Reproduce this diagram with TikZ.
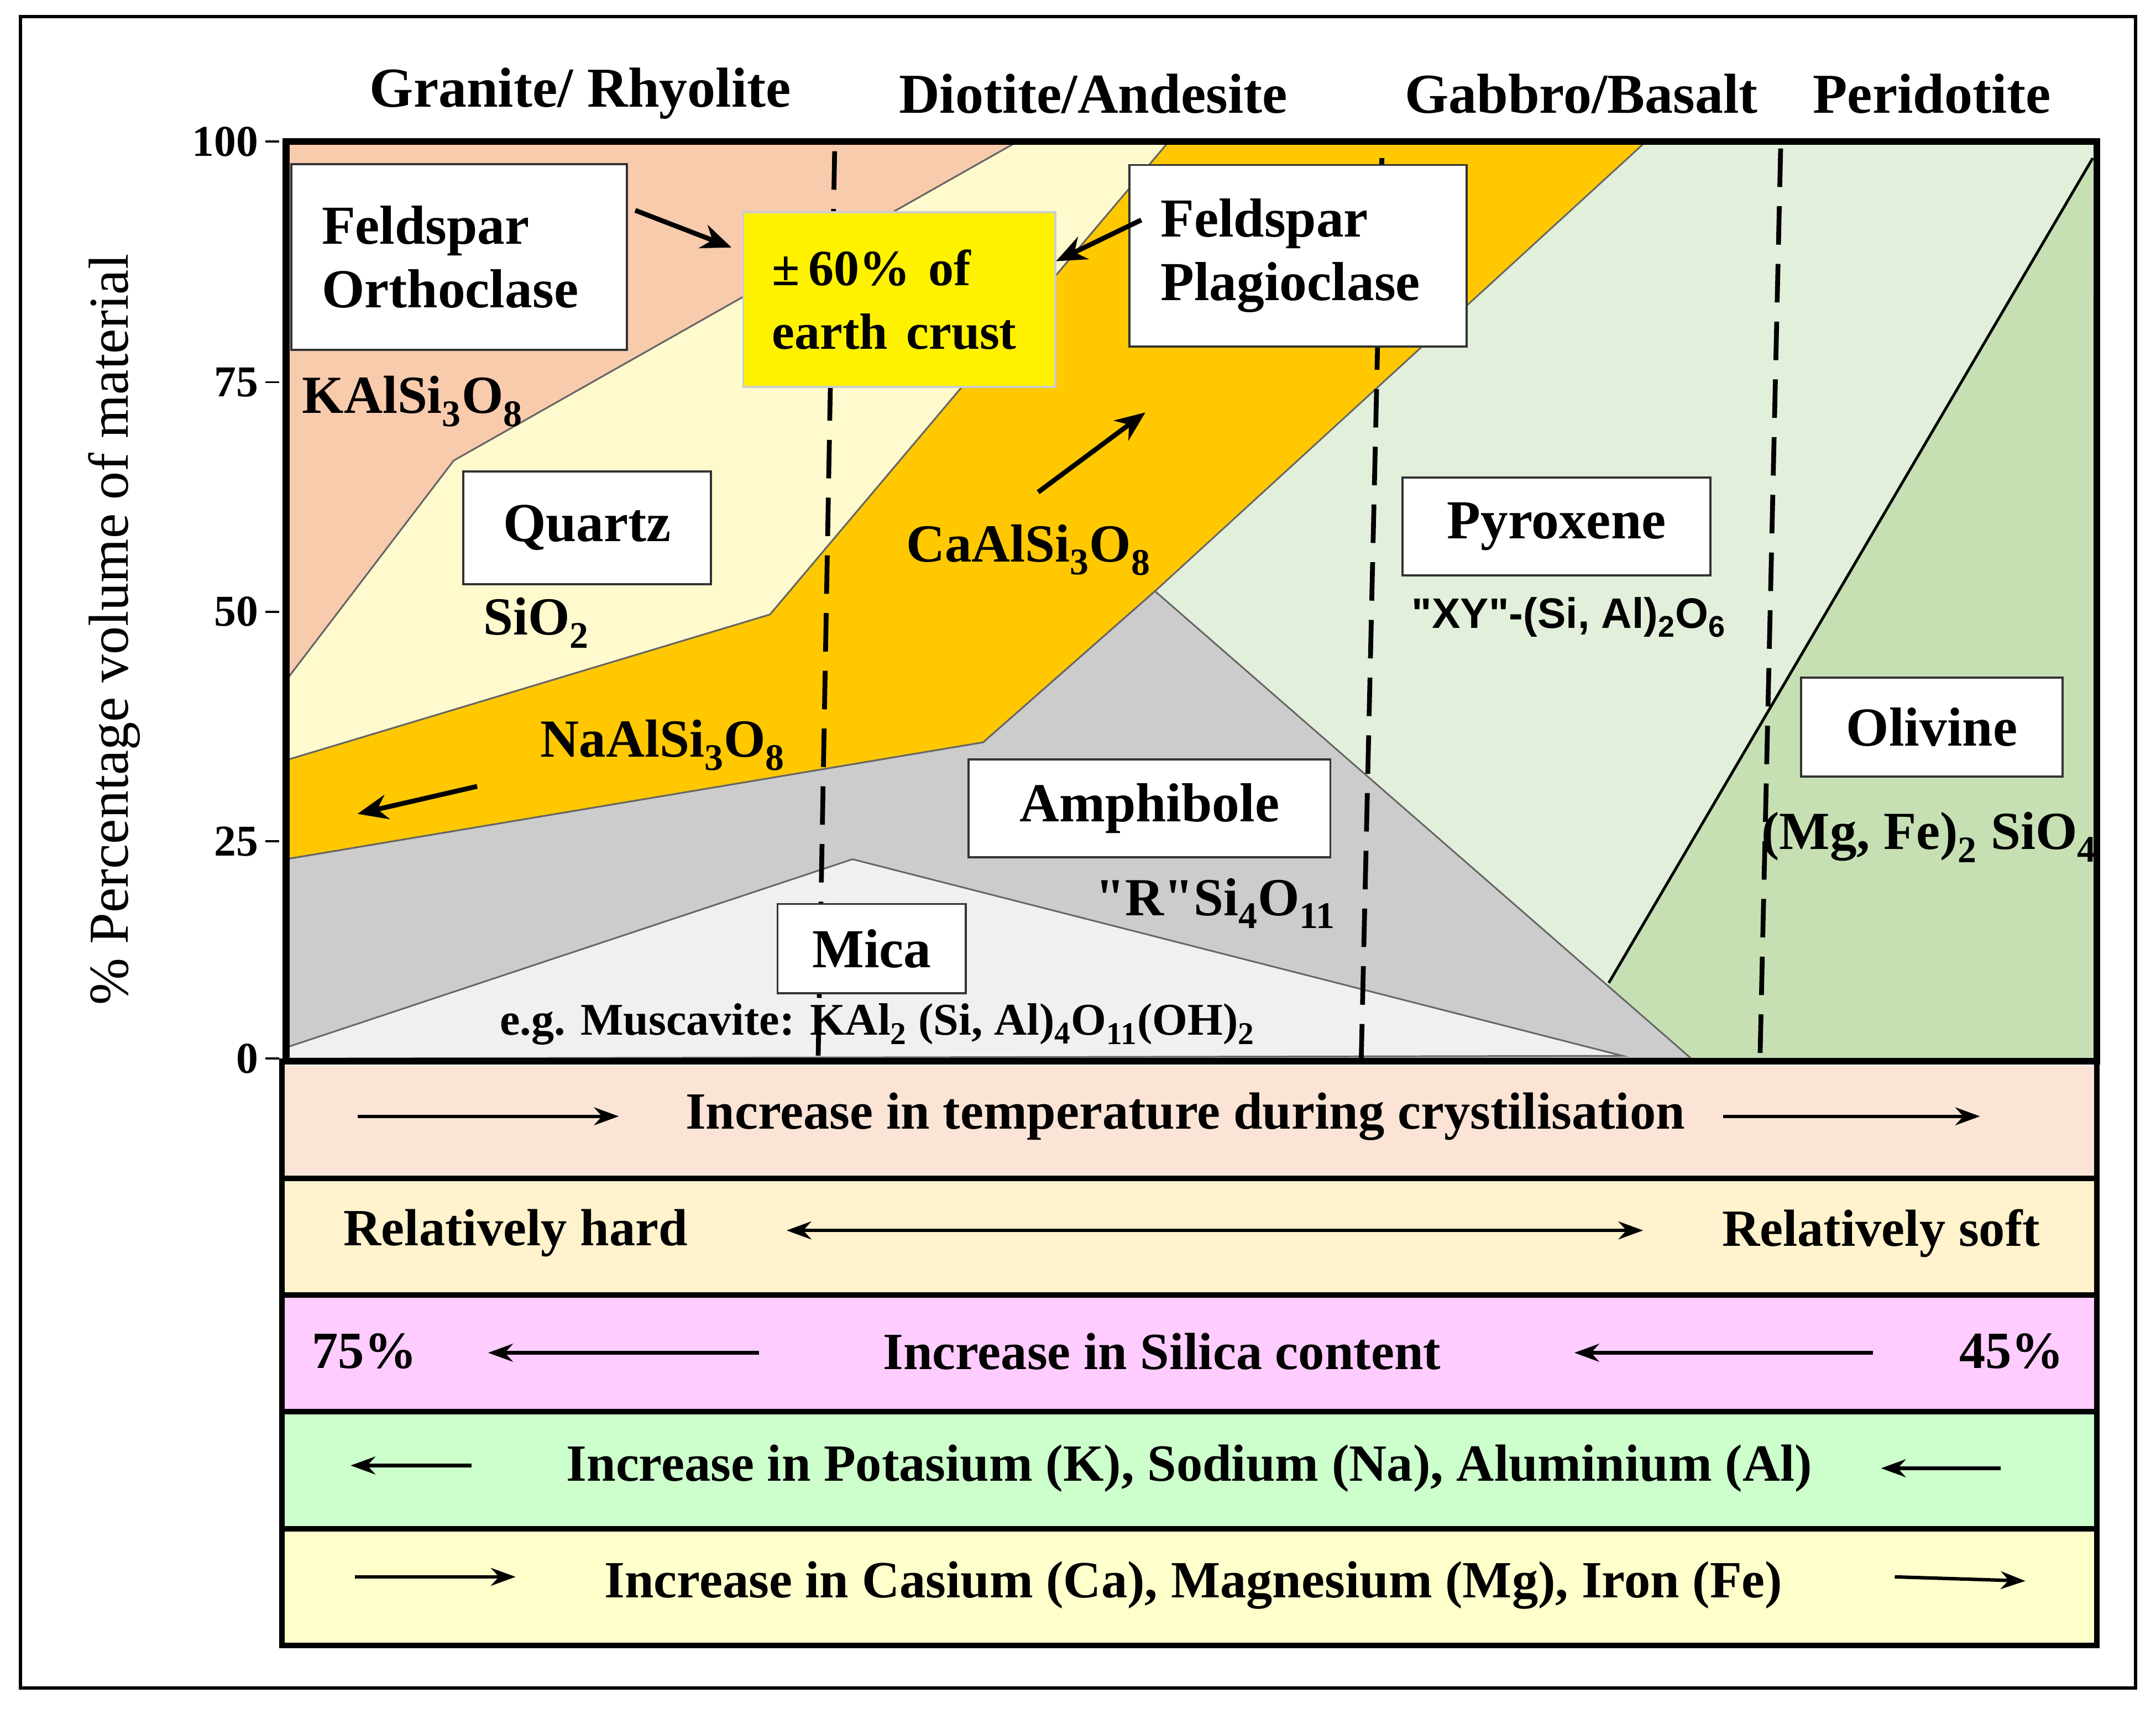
\documentclass[tikz,border=0pt]{standalone}
\usepackage{fontspec}
\setmainfont{Liberation Serif}
\newfontfamily\sansf{Liberation Sans}
\usetikzlibrary{arrows.meta}
\definecolor{peach}{HTML}{F8CBAD}
\definecolor{quartz}{HTML}{FFFACD}
\definecolor{plag}{HTML}{FFC800}
\definecolor{amph}{HTML}{CDCCCD}
\definecolor{mica}{HTML}{F0F0F0}
\definecolor{pyro}{HTML}{E2EFDA}
\definecolor{oliv}{HTML}{C6E0B4}
\definecolor{bandA}{HTML}{FBE4D5}
\definecolor{bandB}{HTML}{FFF2CC}
\definecolor{bandC}{HTML}{FFCCFF}
\definecolor{bandD}{HTML}{CCFFCC}
\definecolor{bandE}{HTML}{FFFFCC}
\newcommand{\sbs}[1]{\textsubscript{#1}}
\begin{document}
\begin{tikzpicture}[x=1pt,y=-1pt,
  lbl/.style={draw=black!80,fill=white,line width=1.5pt,inner sep=0pt,font=\bfseries\fontsize{40}{46}\selectfont,align=left},
  txt/.style={font=\bfseries\fontsize{39}{44}\selectfont,inner sep=0pt},
  hd/.style={font=\bfseries\fontsize{41}{46}\selectfont,inner sep=0pt},
  bt/.style={font=\bfseries\fontsize{38}{42}\selectfont,inner sep=0pt},
  bnd/.style={line width=4pt},
  arr/.style={line width=3.5pt,-{Stealth[length=22pt,width=18pt]}},
  thin arr/.style={line width=2.5pt,-{Stealth[length=18pt,width=13pt]}},
  dsh/.style={line width=3.5pt,dash pattern=on 28pt off 14pt},
  edge/.style={draw=black!60,line width=1.2pt}]
\useasboundingbox (0,0) rectangle (1568,1243);
\fill[white] (0,0) rectangle (1568,1243);
\draw[line width=2.5pt] (15,12) rectangle (1553,1228);
% regions
\fill[pyro] (208,103) rectangle (1525,770);
\fill[oliv] (1170,715) -- (1522,115) -- (1525,770) -- (1160,770) -- cycle;
\draw[line width=2pt] (1170,715) -- (1522,115);
\filldraw[fill=peach,edge] (208,103) -- (740,103) -- (330,335) -- (208,495) -- cycle;
\filldraw[fill=quartz,edge] (208,495) -- (330,335) -- (740,103) -- (850,103) -- (560,447) -- (208,553) -- cycle;
\filldraw[fill=plag,edge] (208,553) -- (560,447) -- (850,103) -- (1197,103) -- (840,430) -- (715,540) -- (208,625) -- cycle;
\filldraw[fill=amph,edge] (208,625) -- (715,540) -- (840,430) -- (1230,770) -- (208,770) -- cycle;
\filldraw[fill=mica,edge] (208,762) -- (620,625) -- (1180,768) -- (208,770) -- cycle;
% dashed lines
\draw[dsh] (607,110) -- (595,770);
\draw[dsh] (1005,115) -- (990,770);
\draw[dsh] (1295,108) -- (1280,770);
\draw[line width=5pt] (208,103) rectangle (1525,772);
% axis
\foreach \v/\yy in {100/103,75/278,50/445,25/612,0/770}{
  \draw[line width=1.5pt] (193,\yy) -- (203,\yy);
  \node[anchor=east,font=\bfseries\fontsize{32}{36}\selectfont,inner sep=0pt] (t\v) at (188,\yy) {\v};}
\node[rotate=90,font=\fontsize{41}{46}\selectfont,inner sep=0pt] (ylab) at (83,458) {\% Percentage volume of material};
% headings
\node[hd] (h1) at (422,68) {Granite/ Rhyolite};
\node[hd] (h2) at (795,68) {Diotite/Andesite};
\node[hd] (h3) at (1150,68) {Gabbro/Basalt};
\node[hd] (h4) at (1405,68) {Peridotite};
% boxes
\node[lbl,minimum width=244pt,minimum height=135pt,text width=200pt] (orth) at (334,187) {Feldspar\\Orthoclase};
\node[lbl,fill=yellow,draw=black!20,minimum width=227pt,minimum height=127pt,text width=185pt] (crust) at (654,218) {\fontsize{37}{50}\selectfont\textpm\,60\% of\\earth crust};
\node[lbl,minimum width=245pt,minimum height=132pt,text width=200pt] (plagb) at (944,186) {Feldspar\\Plagioclase};
\node[lbl,minimum width=180pt,minimum height=82pt,align=center] (qz) at (427,384) {Quartz};
\node[lbl,minimum width=224pt,minimum height=71pt,align=center] (px) at (1132,383) {Pyroxene};
\node[lbl,minimum width=190pt,minimum height=72pt,align=center] (ol) at (1405,529) {Olivine};
\node[lbl,minimum width=263pt,minimum height=71pt,align=center] (am) at (836,588) {Amphibole};
\node[lbl,minimum width=137pt,minimum height=65pt,align=center] (mc) at (634,690) {Mica};
% formula labels
\node[txt] (f1) at (300,292) {KAlSi\sbs{3}O\sbs{8}};
\node[txt] (f2) at (390,453) {SiO\sbs{2}};
\node[txt] (f3) at (748,400) {CaAlSi\sbs{3}O\sbs{8}};
\node[txt] (f4) at (482,542) {NaAlSi\sbs{3}O\sbs{8}};
\node[font=\sansf\bfseries\fontsize{31}{34}\selectfont,inner sep=0pt] (f5) at (1141,449) {\textquotedbl XY\textquotedbl-(Si, Al)\sbs{2}O\sbs{6}};
\node[txt] (f6) at (1403,609) {(Mg, Fe)\sbs{2} SiO\sbs{4}};
\node[txt] (f7) at (884,657) {\textquotedbl R\textquotedbl Si\sbs{4}O\sbs{11}};
\node[font=\bfseries\fontsize{33}{36}\selectfont,inner sep=0pt] (f8) at (638,745) {e.g. Muscavite: KAl\sbs{2} (Si, Al)\sbs{4}O\sbs{11}(OH)\sbs{2}};
% arrows
\coordinate (a1) at (462,153); \coordinate (a2) at (532,180);
\draw[arr] (a1) -- (a2);
\coordinate (b1) at (830,160); \coordinate (b2) at (768,190);
\draw[arr] (b1) -- (b2);
\coordinate (c1) at (755,358); \coordinate (c2) at (833,300);
\draw[arr] (c1) -- (c2);
\coordinate (d1) at (347,572); \coordinate (d2) at (260,592);
\draw[arr] (d1) -- (d2);
% bands
\fill[bandA] (205,775) rectangle (1525,857);
\fill[bandB] (205,857) rectangle (1525,942);
\fill[bandC] (205,942) rectangle (1525,1027);
\fill[bandD] (205,1027) rectangle (1525,1112);
\fill[bandE] (205,1112) rectangle (1525,1197);
\draw[bnd] (205,772) rectangle (1525,1197);
\foreach \yy in {857,942,1027,1112}{\draw[bnd] (205,\yy) -- (1525,\yy);}
\node[bt] (r1) at (862,812) {Increase in temperature during crystilisation};
\coordinate (p1) at (260,812); \coordinate (p2) at (450,812);
\draw[thin arr] (p1) -- (p2);
\coordinate (p3) at (1253,812); \coordinate (p4) at (1440,812);
\draw[thin arr] (p3) -- (p4);
\node[bt] (r2a) at (375,897) {Relatively hard};
\node[bt] (r2b) at (1368,897) {Relatively soft};
\coordinate (q1) at (572,895); \coordinate (q2) at (1195,895);
\draw[line width=2.5pt,{Stealth[length=18pt,width=13pt]}-{Stealth[length=18pt,width=13pt]}] (q1) -- (q2);
\node[bt] (r3a) at (265,983) {75\%};
\node[bt] (r3b) at (1463,983) {45\%};
\node[bt] (r3) at (845,983) {Increase in Silica content};
\coordinate (s1) at (552,984); \coordinate (s2) at (355,984);
\draw[thin arr] (s1) -- (s2);
\coordinate (s3) at (1362,984); \coordinate (s4) at (1145,984);
\draw[thin arr] (s3) -- (s4);
\node[bt] (r4) at (865,1068) {Increase in Potasium (K), Sodium (Na), Aluminium (Al)};
\coordinate (u1) at (343,1066); \coordinate (u2) at (255,1066);
\draw[thin arr] (u1) -- (u2);
\coordinate (u3) at (1455,1068); \coordinate (u4) at (1368,1068);
\draw[thin arr] (u3) -- (u4);
\node[bt] (r5) at (868,1153) {Increase in Casium (Ca), Magnesium (Mg), Iron (Fe)};
\coordinate (v1) at (258,1147); \coordinate (v2) at (375,1147);
\draw[thin arr] (v1) -- (v2);
\coordinate (v3) at (1378,1147); \coordinate (v4) at (1473,1150);
\draw[thin arr] (v3) -- (v4);
\end{tikzpicture}
\end{document}
